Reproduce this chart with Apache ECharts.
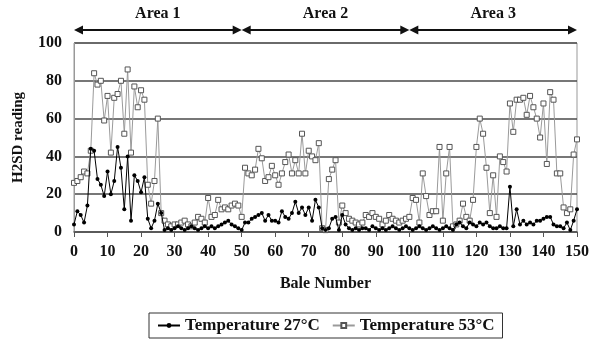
<!DOCTYPE html>
<html><head><meta charset="utf-8">
<script src="https://cdn.jsdelivr.net/npm/echarts@6/dist/echarts.min.js"></script>
<style>html,body{margin:0;padding:0;background:#fff}#c{width:593px;height:339px}</style>
</head><body><div id="c"></div>
<script>
const t27 = [
4,11,9,5,14,44,43,28,25,19,
32,20,27,45,34,12,40,6,30,27,
21,29,7,2,6,15,10,1,2,1,
2,3,2,1,2,3,2,1,2,3,
2,3,2,3,4,5,6,4,3,2,
1,5,5,7,8,9,10,6,9,6,
6,5,11,8,7,10,16,10,13,9,
13,6,17,13,2,1,2,7,8,1,
9,4,2,1,2,1,2,2,1,3,
2,1,2,1,2,3,2,1,2,3,
2,1,2,3,2,1,2,3,2,1,
2,3,2,1,4,5,3,2,5,4,
3,5,4,5,3,2,2,3,2,2,
24,3,12,4,6,4,5,4,6,6,
7,8,8,4,3,3,2,5,1,6,
12];
const t53 = [
26,27,29,32,31,43,84,78,80,59,
72,42,71,73,80,52,86,42,77,66,
75,70,25,15,27,60,10,6,4,3,
4,4,5,6,4,3,5,8,7,5,
18,8,9,17,12,13,12,14,15,14,
8,34,31,30,33,44,39,27,29,35,
30,25,31,37,41,31,38,31,52,31,
43,40,38,47,2,1,28,33,38,5,
14,10,7,6,5,4,5,9,8,10,
8,7,4,6,9,7,6,5,6,7,
8,18,17,5,31,19,9,11,11,45,
6,31,45,3,4,6,15,8,6,17,
45,60,52,34,10,30,8,40,37,32,
68,53,70,70,71,62,72,66,60,50,
68,36,74,70,31,31,13,10,12,41,
49];
const seriesNames = ['Temperature 27°C', 'Temperature 53°C'];
const areaNames = ['Area 1', 'Area 2', 'Area 3'];
const areaBounds = [0, 50, 100, 150];

const font = '"Liberation Serif", "Times New Roman", serif';
const chart = echarts.init(document.getElementById('c'));
const pts = arr => arr.map((v, i) => [i, v]);
chart.setOption({
  animation: false,
  grid: {left: 74, right: 16, top: 43, bottom: 107, show: true, borderColor: '#999', borderWidth: 1},
  xAxis: {
    type: 'value', min: 0, max: 150, interval: 10,
    name: 'Bale Number', nameLocation: 'middle', nameGap: 44,
    nameTextStyle: {fontFamily: font, fontWeight: 'bold', fontSize: 16, color: '#111'},
    axisLine: {lineStyle: {color: '#555', width: 1.5}},
    axisTick: {show: true, length: 5, lineStyle: {color: '#555'}},
    axisLabel: {fontFamily: font, fontWeight: 'bold', fontSize: 16, color: '#111', margin: 12},
    splitLine: {show: false}
  },
  yAxis: {
    type: 'value', min: 0, max: 100, interval: 20,
    name: 'H2SD reading', nameLocation: 'middle', nameGap: 48,
    nameTextStyle: {fontFamily: font, fontWeight: 'bold', fontSize: 15, color: '#111'},
    axisLine: {show: true, lineStyle: {color: '#999'}},
    axisTick: {show: false},
    axisLabel: {fontFamily: font, fontWeight: 'bold', fontSize: 16, color: '#111', margin: 12},
    splitLine: {lineStyle: {color: '#4a4a4a', width: 1.5}}
  },
  legend: {
    bottom: 1, left: 149,
    data: seriesNames,
    borderColor: '#333', borderWidth: 1, padding: [4, 8],
    itemWidth: 22, itemHeight: 6, itemGap: 12,
    textStyle: {fontFamily: font, fontWeight: 'bold', fontSize: 17, color: '#111'}
  },
  series: [
    {
      name: seriesNames[1], type: 'line', data: pts(t53), z: 2,
      symbol: 'rect', symbolSize: 5, showAllSymbol: true,
      lineStyle: {color: '#9a9a9a', width: 1},
      itemStyle: {color: '#fff', borderColor: '#555', borderWidth: 1}
    },
    {
      name: seriesNames[0], type: 'line', data: pts(t27), z: 3,
      symbol: 'circle', symbolSize: 4, showAllSymbol: true,
      lineStyle: {color: '#000', width: 1},
      itemStyle: {color: '#000', borderColor: '#000', borderWidth: 0}
    }
  ]
});

const g = [];
const ay = 30, ah = 9, aw = 4.5;
for (let i = 0; i < areaNames.length; i++) {
  const x0 = chart.convertToPixel({xAxisIndex: 0}, areaBounds[i]);
  const x1 = chart.convertToPixel({xAxisIndex: 0}, areaBounds[i + 1]);
  g.push({type: 'line', shape: {x1: x0 + ah - 1, y1: ay, x2: x1 - ah + 1, y2: ay}, style: {stroke: '#111', lineWidth: 2}});
  g.push({type: 'polygon', shape: {points: [[x0, ay], [x0 + ah, ay - aw], [x0 + ah, ay + aw]]}, style: {fill: '#111'}});
  g.push({type: 'polygon', shape: {points: [[x1, ay], [x1 - ah, ay - aw], [x1 - ah, ay + aw]]}, style: {fill: '#111'}});
  g.push({type: 'text', x: (x0 + x1) / 2, y: 14, style: {text: areaNames[i], fontFamily: font, fontWeight: 'bold', fontSize: 16, fill: '#111', align: 'center', verticalAlign: 'middle'}});
}
chart.setOption({graphic: g});
</script></body></html>
